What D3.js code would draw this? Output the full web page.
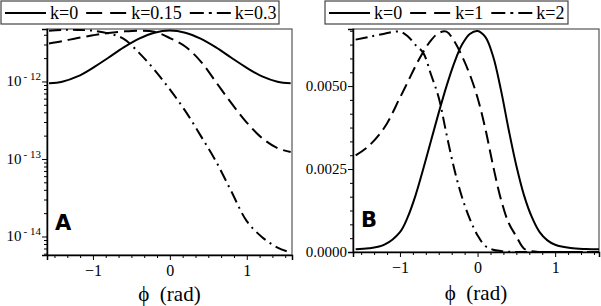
<!DOCTYPE html>
<html><head><meta charset="utf-8">
<script src="https://cdn.jsdelivr.net/npm/d3@7"></script>
<style>
html,body{margin:0;padding:0;background:#fff;}
svg{display:block;}
</style></head>
<body><svg id="c" width="601" height="306"></svg>
<script>
// ---------- data ----------
const phiA = [-1.5708,-1.4,-1.2,-1.0,-0.8,-0.6,-0.4,-0.2,0,0.2,0.4,0.6,0.8,1.0,1.2,1.4,1.5708];
const A_k0   = [9.46e-13,9.9e-13,1.16e-12,1.50e-12,2.02e-12,2.75e-12,3.57e-12,4.26e-12,4.53e-12,4.26e-12,3.57e-12,2.75e-12,2.02e-12,1.50e-12,1.16e-12,9.9e-13,9.46e-13];
const A_k015 = [3.09e-12,3.31e-12,3.63e-12,3.94e-12,4.22e-12,4.42e-12,4.52e-12,4.37e-12,3.63e-12,2.82e-12,1.82e-12,9.8e-13,5.25e-13,2.95e-13,1.86e-13,1.38e-13,1.23e-13];
const A_k03  = [4.52e-12,4.62e-12,4.62e-12,4.52e-12,4.17e-12,3.55e-12,2.34e-12,1.41e-12,7.9e-13,4.17e-13,2.0e-13,9.3e-14,3.8e-14,1.58e-14,9.8e-15,7.2e-15,6.2e-15];
const A_legend = ["k=0","k=0.15","k=0.3"];
const A_yTicks = [1e-12,1e-13,1e-14];
const A_yTickLabels = ["- 12","- 13","- 14"];

const phiB = [-1.5708,-1.4,-1.2,-1.0,-0.9,-0.8,-0.7,-0.6,-0.5,-0.4,-0.3,-0.2,-0.1,0,0.1,0.2,0.3,0.4,0.5,0.6,0.7,0.8,0.9,1.0,1.2,1.4,1.5708];
const B_k0 = [0.00008,0.00011,0.00022,0.00060,0.00105,0.00170,0.00250,0.00335,0.00420,0.00500,0.00570,0.00625,0.00657,0.00666,0.00648,0.00590,0.00490,0.00370,0.00260,0.00170,0.00105,0.00060,0.00035,0.00022,0.00012,0.00009,0.00008];
const B_k1 = [0.00291,0.00320,0.00375,0.00465,0.00512,0.00560,0.00603,0.00638,0.00660,0.00664,0.00635,0.00590,0.00535,0.00465,0.00372,0.00260,0.00160,0.00088,0.00047,0.00010,0.00002,0,0,0,0,0,0];
const B_k2 = [0.00640,0.00648,0.00658,0.00664,0.00650,0.00624,0.00600,0.00535,0.00465,0.00355,0.00250,0.00165,0.00100,0.00050,0.00018,0.00007,0.00003,0.00001,0,0,0,0,0,0,0,0,0];
const B_legend = ["k=0","k=1","k=2"];
const B_yTicks = [0,0.0025,0.005];
const B_yTickLabels = ["0.0000","0.0025","0.0050"];

const xTicks = [-1,0,1];
const xTickLabels = ["\u22121","0","1"];
const xLabel = "\u03D5  (rad)";

// ---------- drawing ----------
const SERIF = "'Liberation Serif','Times New Roman','DejaVu Serif',serif";
const svg = d3.select("#c");
const dashes = [null, "13,6", "12,5,2,5"];
const legendDashes = [null, "16,8", "14,5,3,5"];

function panel(cfg){
  const g = svg.append("g");
  const x = d3.scaleLinear().domain(cfg.xDom).range([cfg.l, cfg.r]);
  const y = cfg.log ? d3.scaleLog().domain(cfg.yDom).range([cfg.b, cfg.t])
                    : d3.scaleLinear().domain(cfg.yDom).range([cfg.b, cfg.t]);
  const clipId = "clip"+cfg.name;
  svg.append("clipPath").attr("id", clipId).append("rect")
     .attr("x", cfg.l).attr("y", cfg.t).attr("width", cfg.r-cfg.l).attr("height", cfg.b-cfg.t);

  g.append("rect").attr("x", cfg.l).attr("y", cfg.t).attr("width", cfg.r-cfg.l).attr("height", cfg.b-cfg.t)
   .attr("fill","none").attr("stroke","#555").attr("stroke-width",1.2);

  const xmin = [];
  for(let k=-12;k<=12;k++){ const v=k/6; if(v>=cfg.xDom[0]&&v<=cfg.xDom[1]&&k%6!==0) xmin.push(v); }
  g.append("g").attr("transform",`translate(0,${cfg.b})`)
   .call(d3.axisBottom(x).tickValues(xmin).tickSize(3).tickFormat(""))
   .call(s=>s.select(".domain").remove());
  const xa = g.append("g").attr("transform",`translate(0,${cfg.b})`).attr("font-family",SERIF)
   .call(d3.axisBottom(x).tickValues(xTicks).tickSize(5).tickPadding(cfg.xPad).tickFormat((d,i)=>xTickLabels[i]));
  xa.attr("font-family",SERIF).attr("font-size",16);
  xa.select(".domain").attr("stroke","#000").attr("stroke-width",1.5);
  xa.selectAll("text").attr("font-family",SERIF).style("font-family",SERIF).style("font-size","16px");

  let ymin = [];
  if(cfg.log){
    for(let e=-15;e<=-11;e++) for(let m=2;m<=9;m++){ const v=m*Math.pow(10,e); if(v>=cfg.yDom[0]&&v<=cfg.yDom[1]) ymin.push(v); }
  } else {
    for(let k=1;k<=20;k++){ const v=k*0.0025/6; if(v<=cfg.yDom[1] && k%6!==0) ymin.push(v); }
  }
  g.append("g").attr("transform",`translate(${cfg.l},0)`)
   .call(d3.axisLeft(y).tickValues(ymin).tickSize(3).tickFormat(""))
   .call(s=>s.select(".domain").remove());
  const ya = g.append("g").attr("transform",`translate(${cfg.l},0)`)
   .call(d3.axisLeft(y).tickValues(cfg.yTicks).tickSize(5).tickFormat(""));
  ya.select(".domain").attr("stroke","#000").attr("stroke-width",1.5);
  cfg.yTicks.forEach((v,i)=>{
    const t = g.append("text").attr("x", cfg.l-6).attr("y", y(v)+5).attr("text-anchor","end")
      .attr("font-family",SERIF).style("font-family",SERIF).style("font-size","15px");
    if(cfg.log){
      t.append("tspan").text("10");
      t.append("tspan").style("font-size","11px").attr("dy",-6).attr("dx",2).text(cfg.yLabels[i]);
    } else t.text(cfg.yLabels[i]);
  });

  const line = d3.line().x((d,i)=>x(cfg.phi[i])).y(d=>y(d)).curve(d3.curveCatmullRom.alpha(0.5));
  cfg.series.forEach((s,i)=>{
    g.append("path").attr("d", line(s)).attr("fill","none").attr("stroke","#000")
     .attr("stroke-width",2).attr("stroke-dasharray",dashes[i]).attr("clip-path",`url(#${clipId})`);
  });

  g.append("text").attr("x", cfg.l+8).attr("y", cfg.b-25)
   .style("font-family","'DejaVu Sans',sans-serif").style("font-weight","bold").style("font-size","21px").text(cfg.name);

  g.append("text").attr("x",(cfg.l+cfg.r)/2).attr("y",cfg.xlabY).attr("text-anchor","middle")
   .attr("font-family",SERIF).style("font-family",SERIF).style("font-size","21px").style("white-space","pre").text(xLabel);

  const lg = g.append("g");
  lg.append("rect").attr("x",cfg.lgx).attr("y",1).attr("width",cfg.lgw).attr("height",23)
    .attr("fill","#fff").attr("stroke","#444").attr("stroke-width",1.2);
  let cx = cfg.lgx+4;
  cfg.legend.forEach((lab,i)=>{
    lg.append("line").attr("x1",cx).attr("x2",cx+41).attr("y1",13).attr("y2",13)
      .attr("stroke","#000").attr("stroke-width",2).attr("stroke-dasharray",legendDashes[i]);
    const t = lg.append("text").attr("x",cx+45).attr("y",19)
      .style("font-family",SERIF).style("font-size","18px").text(lab);
    cx += 45 + t.node().getComputedTextLength() + 8;
  });
}

panel({name:"A", l:47, r:292, t:29, b:255, xDom:[-1.597,1.588], yDom:[5.77e-15,4.75e-12], log:true,
  phi:phiA, series:[A_k0,A_k015,A_k03], legend:A_legend, yTicks:A_yTicks, yLabels:A_yTickLabels,
  lgx:1, lgw:278, xPad:5, xlabY:301});
panel({name:"B", l:353, r:599, t:29, b:252, xDom:[-1.605,1.565], yDom:[0,0.00672], log:false,
  phi:phiB, series:[B_k0,B_k1,B_k2], legend:B_legend, yTicks:B_yTicks, yLabels:B_yTickLabels,
  lgx:325, lgw:243, xPad:5, xlabY:300});
</script></body></html>
